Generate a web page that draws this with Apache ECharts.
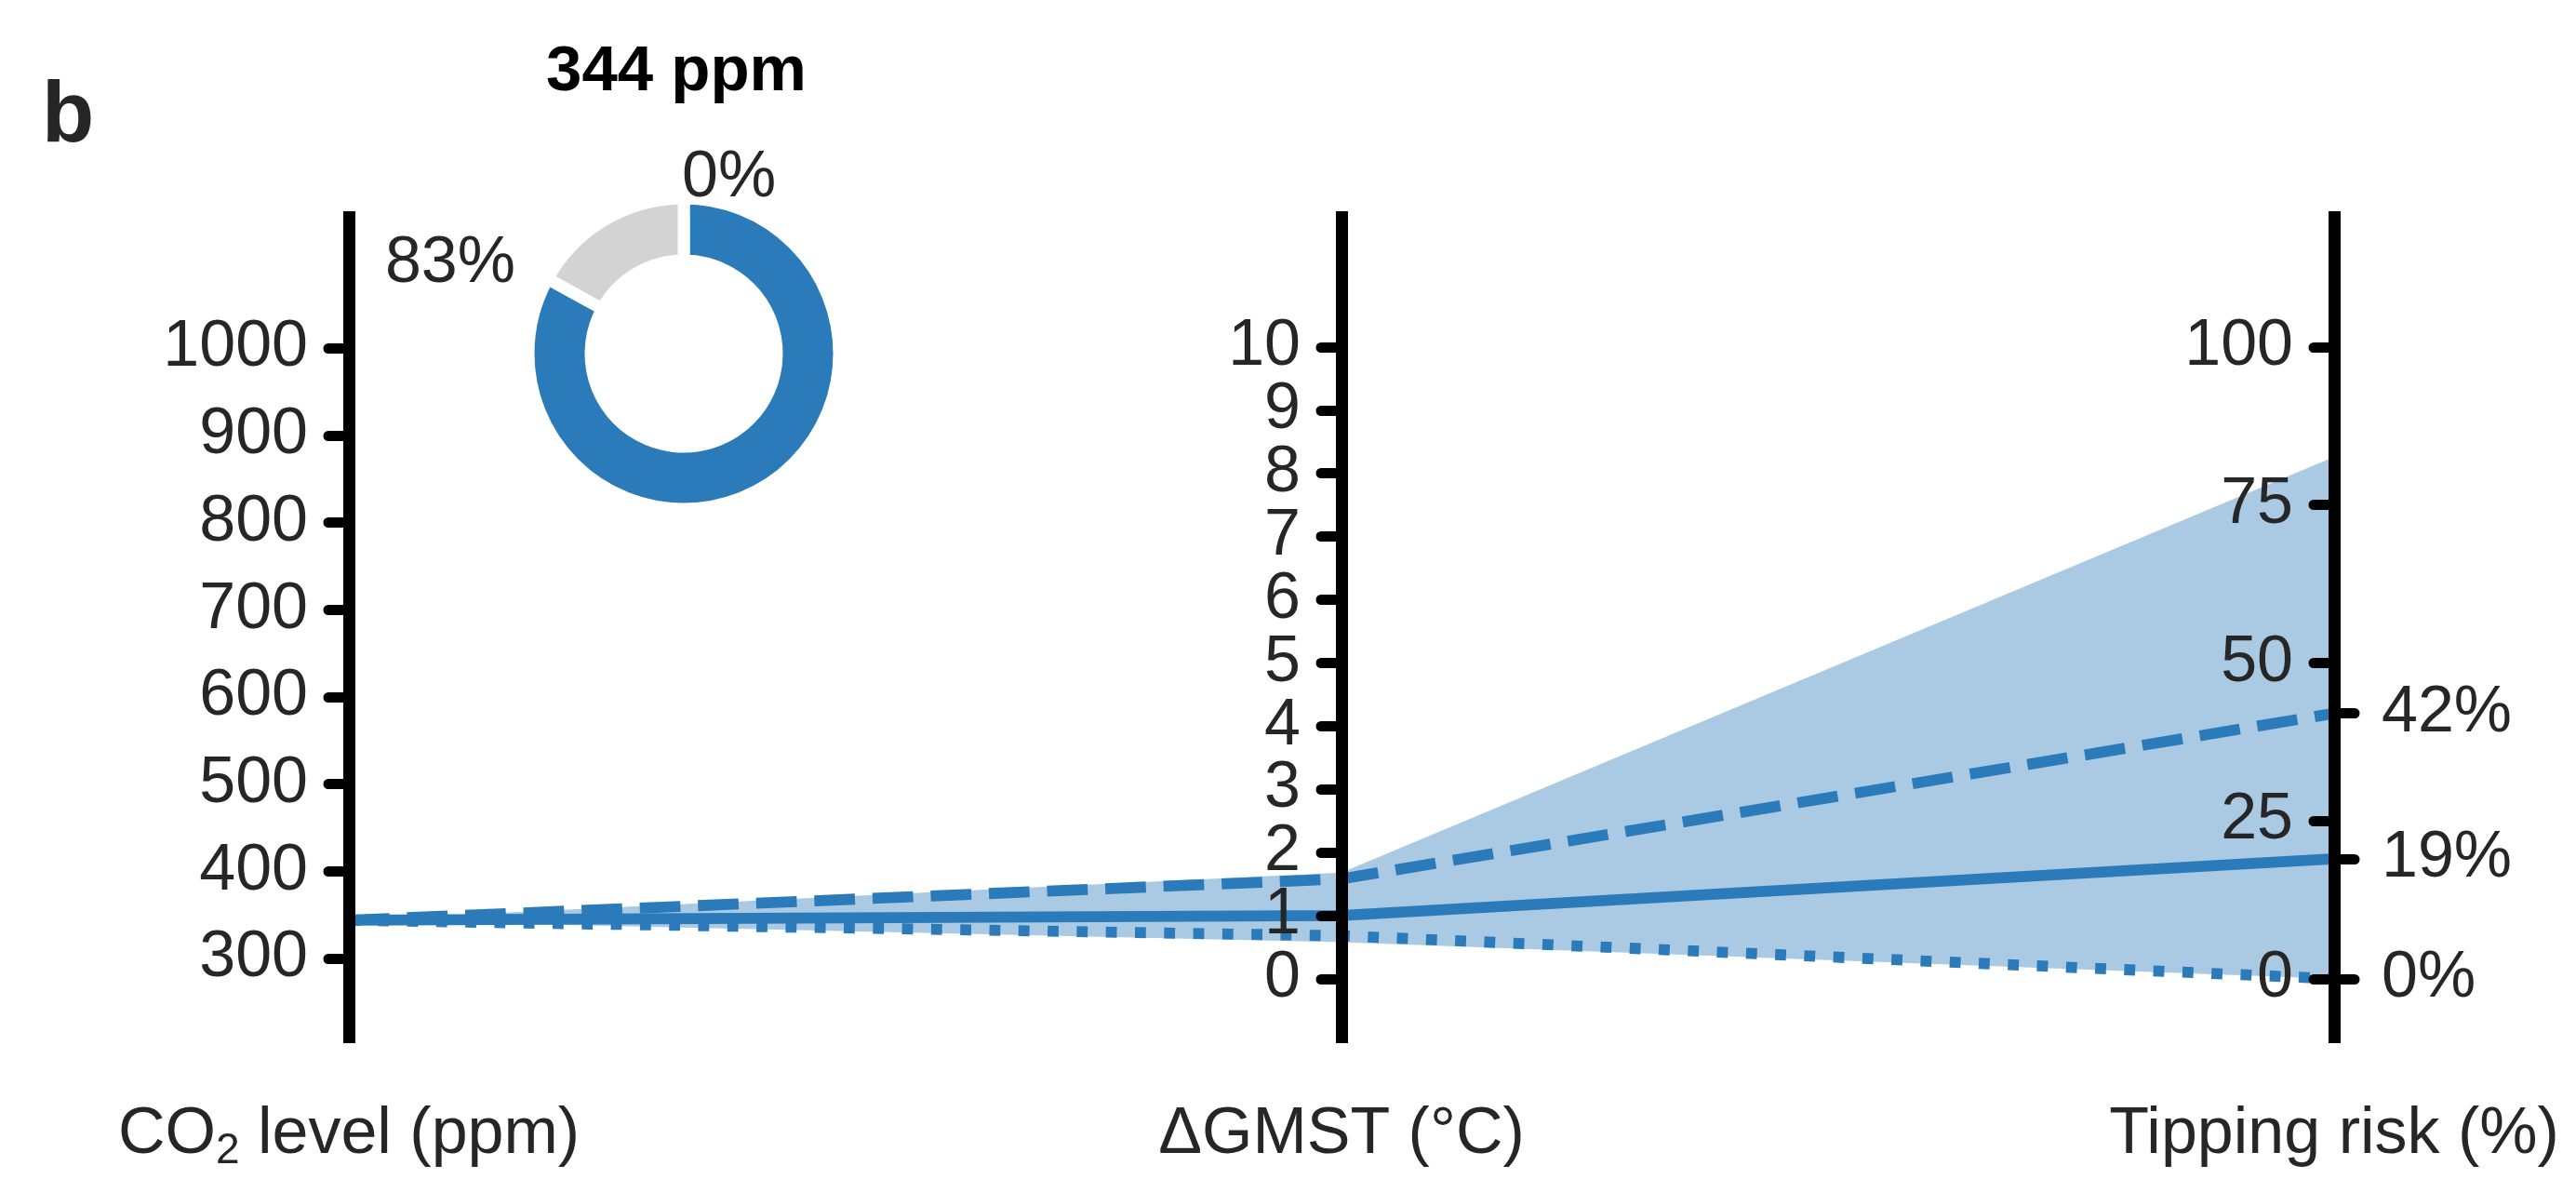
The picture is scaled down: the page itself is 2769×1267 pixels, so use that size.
<!DOCTYPE html>
<html>
<head>
<meta charset="utf-8">
<script src="https://cdn.jsdelivr.net/npm/echarts@6/dist/echarts.min.js"></script>
<style>
html, body { margin: 0; padding: 0; background: #ffffff; }
#chart { width: 2769px; height: 1267px; }
</style>
</head>
<body>
<div id="chart"></div>
<script>
// ---------------- data ----------------
const axisNames = ['CO₂ level (ppm)', 'ΔGMST (°C)', 'Tipping risk (%)'];
const co2Ticks = [300, 400, 500, 600, 700, 800, 900, 1000];
const gmstTicks = [0, 1, 2, 3, 4, 5, 6, 7, 8, 9, 10];
const riskTicks = [0, 25, 50, 75, 100];
const riskMarks = [0, 19, 42];
const medianPath = [344, 1.0, 19];
const upperPath = [344, 1.58, 42];
const lowerPath = [344, 0.68, 0];
const bandTop = [344, 1.68, 82.6];
const bandBottom = [344, 0.58, 0];
const donutValues = [83, 17];
const donutEdgeLabels = ['0%', '83%'];
const titleText = '344 ppm';
const panelLabel = 'b';

// ---------------- layout / style ----------------
const FONT = 'Liberation Sans, Arial, Helvetica, sans-serif';
const TEXT = '#262626';
const BLUE = '#2B7BBA';
const BAND = '#AACAE3';
const GREY = '#D3D3D3';
const AXIS_X = [375, 1442, 2509];
const TOP = 227, BOTTOM = 146;
const RANGES = [[203, 1157], [-1.02, 12.15], [-10.2, 121.5]];
// the dense ΔGMST ticks are split over two overlaid axes so that none is dropped as overlapping
const gmstEven = gmstTicks.filter(v => v % 2 === 0);
const gmstOdd = gmstTicks.filter(v => v % 2 === 1);
const TICKS = [co2Ticks, gmstEven, riskTicks];

const chart = echarts.init(document.getElementById('chart'), null, { renderer: 'canvas' });

const tickStyle = { color: '#000', width: 11, cap: 'round' };
const labelStyle = { fontSize: 70, color: TEXT, fontFamily: FONT, lineHeight: 60, hideOverlap: false, showMinLabel: true, showMaxLabel: true };

const grids = AXIS_X.map(x => ({ left: x, top: TOP, bottom: BOTTOM, width: 60, outerBoundsMode: 'none', containLabel: false }));
const xAxes = AXIS_X.map((x, i) => ({ gridIndex: i, type: 'value', min: 0, max: 1, show: false }));
const yAxes = AXIS_X.map((x, i) => ({
  gridIndex: i, type: 'value', min: RANGES[i][0], max: RANGES[i][1],
  position: 'left', offset: 0, z: 5,
  axisLine: { show: true, onZero: false, lineStyle: { color: '#000', width: 13, cap: 'butt' } },
  axisTick: { show: true, inside: false, length: 22, customValues: TICKS[i], lineStyle: tickStyle },
  axisLabel: Object.assign({ show: true, customValues: TICKS[i], margin: 44, formatter: v => String(v) }, labelStyle),
  splitLine: { show: false }
}));
// tipping-risk values marked on the right side of the third axis
yAxes.push({
  gridIndex: 2, type: 'value', min: RANGES[2][0], max: RANGES[2][1],
  position: 'left', offset: 0, z: 5,
  axisLine: { show: false },
  axisTick: { show: true, inside: true, length: 22, customValues: riskMarks, lineStyle: tickStyle },
  axisLabel: Object.assign({ show: true, inside: true, customValues: riskMarks, margin: 51, formatter: v => v + '%' }, labelStyle),
  splitLine: { show: false }
});
// odd ΔGMST ticks
yAxes.push({
  gridIndex: 1, type: 'value', min: RANGES[1][0], max: RANGES[1][1],
  position: 'left', offset: 0, z: 5,
  axisLine: { show: false },
  axisTick: { show: true, inside: false, length: 22, customValues: gmstOdd, lineStyle: tickStyle },
  axisLabel: Object.assign({ show: true, customValues: gmstOdd, margin: 44, formatter: v => String(v) }, labelStyle),
  splitLine: { show: false }
});

function toPx(vals) {
  return vals.map((v, i) => chart.convertToPixel({ xAxisIndex: i, yAxisIndex: i }, [0, v]));
}
function bandItem() {
  const top = toPx(bandTop);
  const bot = toPx(bandBottom).reverse();
  return { type: 'polygon', shape: { points: top.concat(bot) }, style: { fill: BAND, stroke: null } };
}
function lineItem(vals, dash) {
  return function () {
    return {
      type: 'polyline', shape: { points: toPx(vals) },
      style: { stroke: BLUE, lineWidth: 11.8, fill: null, lineDash: dash, lineCap: 'butt', lineJoin: 'round' }
    };
  };
}

const nameTexts = axisNames.map((n, i) => {
  const rich = {
    m: { fontSize: 70, fontFamily: FONT, fill: TEXT, color: TEXT, lineHeight: 80 },
    s: { fontSize: 46, fontFamily: FONT, fill: TEXT, color: TEXT, lineHeight: 45, verticalAlign: 'bottom' }
  };
  const txt = i === 0 ? '{m|CO}{s|2}{m|' + n.replace('CO₂', '') + '}' : '{m|' + n + '}';
  return {
    type: 'text', x: AXIS_X[i], y: 1220, silent: true, z: 10,
    style: { text: txt, rich: rich, align: 'center', verticalAlign: 'middle', fontSize: 70, fontFamily: FONT, fill: TEXT }
  };
});

const option = {
  animation: false,
  backgroundColor: '#ffffff',
  grid: grids,
  xAxis: xAxes,
  yAxis: yAxes,
  graphic: [
    { type: 'text', x: 45, y: 127, silent: true, z: 10,
      style: { text: panelLabel, fontSize: 92, fontWeight: 'bold', fontFamily: FONT, fill: TEXT, align: 'left', verticalAlign: 'middle' } },
    { type: 'text', x: 727, y: 78, silent: true, z: 10,
      style: { text: titleText, fontSize: 69, fontWeight: 'bold', fontFamily: FONT, fill: '#000', align: 'center', verticalAlign: 'middle' } },
    { type: 'text', x: 733, y: 192, silent: true, z: 10,
      style: { text: donutEdgeLabels[0], fontSize: 70, fontFamily: FONT, fill: TEXT, align: 'left', verticalAlign: 'middle' } },
    { type: 'text', x: 554, y: 284, silent: true, z: 10,
      style: { text: donutEdgeLabels[1], fontSize: 70, fontFamily: FONT, fill: TEXT, align: 'right', verticalAlign: 'middle' } }
  ].concat(nameTexts),
  series: [
    { type: 'custom', coordinateSystem: 'none', renderItem: bandItem, data: [0], z: 1, silent: true },
    { type: 'custom', coordinateSystem: 'none', renderItem: lineItem(medianPath, null), data: [0], z: 2, silent: true },
    { type: 'custom', coordinateSystem: 'none', renderItem: lineItem(upperPath, [43.7, 18.9]), data: [0], z: 2, silent: true },
    { type: 'custom', coordinateSystem: 'none', renderItem: lineItem(lowerPath, [11.8, 19.5]), data: [0], z: 2, silent: true },
    {
      type: 'pie', center: [735, 380], radius: [100, 167], startAngle: 90, clockwise: true, z: 1,
      silent: true, label: { show: false }, labelLine: { show: false },
      itemStyle: { borderColor: '#ffffff', borderWidth: 13 },
      emphasis: { disabled: true },
      data: donutValues.map((v, i) => ({ value: v, itemStyle: { color: i === 0 ? BLUE : GREY } }))
    }
  ]
};
chart.setOption(option);
</script>
</body>
</html>
